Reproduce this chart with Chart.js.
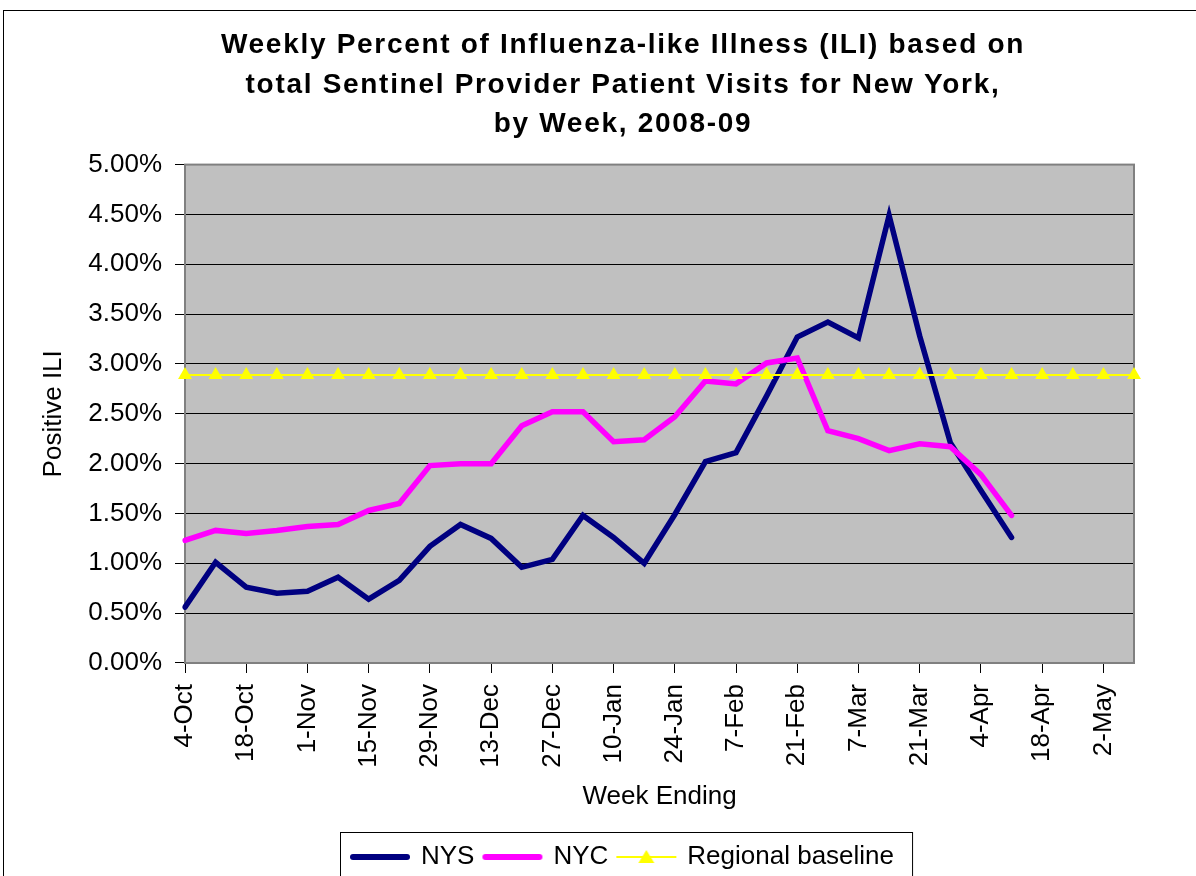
<!DOCTYPE html>
<html>
<head>
<meta charset="utf-8">
<script src="https://cdn.jsdelivr.net/npm/chart.js@4.4.1/dist/chart.umd.min.js"></script>
<style>
  html, body { margin: 0; padding: 0; background: #fff; overflow: hidden; }
  #wrap { width: 1196px; height: 876px; overflow: hidden; }
  canvas { display: block; }
</style>
</head>
<body>
<div id="wrap"><canvas id="myChart" width="1246" height="876"></canvas></div>
<script>
// week ending dates, 2008-09 season
const weeks = ['4-Oct', '11-Oct', '18-Oct', '25-Oct', '1-Nov', '8-Nov', '15-Nov', '22-Nov', '29-Nov',
    '6-Dec', '13-Dec', '20-Dec', '27-Dec', '3-Jan', '10-Jan', '17-Jan', '24-Jan', '31-Jan',
    '7-Feb', '14-Feb', '21-Feb', '28-Feb', '7-Mar', '14-Mar', '21-Mar', '28-Mar',
    '4-Apr', '11-Apr', '18-Apr', '25-Apr', '2-May', '9-May'];

// percent ILI
const nys = [0.56, 1.01, 0.76, 0.70, 0.72, 0.86, 0.64, 0.83, 1.17, 1.39, 1.25, 0.96, 1.04, 1.48,
    1.26, 1.00, 1.49, 2.02, 2.11, 2.68, 3.27, 3.42, 3.26, 4.49, 3.28, 2.21, 1.73, 1.26,
    null, null, null, null];
const nyc = [1.23, 1.33, 1.30, 1.33, 1.37, 1.39, 1.53, 1.60, 1.98, 2.00, 2.00, 2.38, 2.52, 2.52,
    2.22, 2.24, 2.47, 2.83, 2.80, 3.01, 3.06, 2.33, 2.25, 2.13, 2.20, 2.17, 1.89, 1.48,
    null, null, null, null];
const baseline = [2.89, 2.89, 2.89, 2.89, 2.89, 2.89, 2.89, 2.89, 2.89, 2.89, 2.89, 2.89, 2.89, 2.89,
    2.89, 2.89, 2.89, 2.89, 2.89, 2.89, 2.89, 2.89, 2.89, 2.89, 2.89, 2.89, 2.89, 2.89,
    2.89, 2.89, 2.89, 2.89];

const naslov = ['Weekly Percent of Influenza-like Illness (ILI) based on',
    'total Sentinel Provider Patient Visits for New York,',
    'by Week, 2008-09'];

Chart.defaults.font.family = '"Liberation Sans", Arial, sans-serif';
Chart.defaults.color = '#000';

function ikona(boja, debljina, trokut) {
    const c = document.createElement('canvas');
    c.width = 62;
    c.height = 20;
    const g = c.getContext('2d');
    g.strokeStyle = boja;
    g.lineWidth = debljina;
    g.lineCap = trokut ? 'butt' : 'round';
    g.beginPath();
    g.moveTo(trokut ? 1 : 4, 10);
    g.lineTo(trokut ? 61 : 58, 10);
    g.stroke();
    if (trokut) {
        g.fillStyle = boja;
        g.beginPath();
        g.moveTo(31, 3);
        g.lineTo(39, 16);
        g.lineTo(23, 16);
        g.closePath();
        g.fill();
    }
    return c;
}
const ikone = [ikona('#000080', 6, false), ikona('#FF00FF', 6, false), ikona('#FFFF00', 2, true)];

const okvir = {
    id: 'okvir',
    beforeDraw(chart) {
        const { ctx, chartArea: a } = chart;
        ctx.save();
        ctx.fillStyle = '#fff';
        ctx.fillRect(0, 0, chart.width, chart.height);
        ctx.fillStyle = '#C0C0C0';
        ctx.fillRect(a.left, a.top, a.right - a.left, a.bottom - a.top);
        ctx.strokeStyle = '#000';
        ctx.lineWidth = 1;
        ctx.strokeRect(3.5, 10.5, chart.width + 20, chart.height + 20);
        ctx.restore();
    },
    beforeDatasetsDraw(chart) {
        const { ctx, chartArea: a } = chart;
        ctx.save();
        ctx.strokeStyle = '#808080';
        ctx.lineWidth = 2;
        ctx.strokeRect(a.left, a.top, a.right - a.left, a.bottom - a.top);
        ctx.restore();
    },
    afterDraw(chart) {
        const boxes = chart.legend.legendHitBoxes;
        if (!boxes || !boxes.length) return;
        const lijevo = Math.min(...boxes.map(b => b.left));
        const desno = Math.max(...boxes.map(b => b.left + b.width));
        const vrh = boxes[0].top;
        const ctx = chart.ctx;
        ctx.save();
        ctx.strokeStyle = '#000';
        ctx.lineWidth = 1;
        ctx.strokeRect(Math.round(lijevo - 12) + 0.5, Math.round(vrh - 12) + 0.5, desno - lijevo + 30, 80);
        ctx.restore();
    },
    afterLayout(chart) {
        // Excel title is drawn with loose letter spacing
        const t = chart.titleBlock;
        if (!t || t._razmak) return;
        const crtaj = t.draw.bind(t);
        t.draw = function (area) {
            chart.ctx.save();
            chart.ctx.letterSpacing = '1.7px';
            crtaj(area);
            chart.ctx.restore();
        };
        t._razmak = true;
    }
};

const ctx = document.getElementById('myChart');
const myChart = new Chart(ctx, {
    type: 'line',
    data: {
        labels: weeks,
        datasets: [{
            label: 'NYS',
            data: nys,
            borderColor: '#000080',
            backgroundColor: '#000080',
            borderWidth: 5.5,
            borderCapStyle: 'round',
            pointRadius: 0,
            order: 3
        }, {
            label: 'NYC',
            data: nyc,
            borderColor: '#FF00FF',
            backgroundColor: '#FF00FF',
            borderWidth: 5.5,
            borderCapStyle: 'round',
            pointRadius: 0,
            order: 2
        }, {
            label: 'Regional baseline',
            data: baseline,
            borderColor: '#FFFF00',
            backgroundColor: '#FFFF00',
            borderWidth: 2,
            pointStyle: 'triangle',
            pointRadius: 8,
            pointBorderWidth: 0,
            pointBackgroundColor: '#FFFF00',
            clip: false,
            order: 1
        }]
    },
    options: {
        responsive: false,
        animation: false,
        devicePixelRatio: 1,
        layout: { padding: { left: 0, right: 0, top: 0, bottom: -4 } },
        plugins: {
            title: {
                display: true,
                text: naslov,
                color: '#000',
                font: { size: 28, weight: 'bold', lineHeight: 1.4 },
                padding: { top: 26, bottom: 21 }
            },
            legend: {
                position: 'bottom',
                labels: {
                    usePointStyle: true,
                    pointStyleWidth: 56,
                    color: '#000',
                    font: { size: 26 },
                    padding: 10,
                    generateLabels: chart => {
                        const items = Chart.defaults.plugins.legend.labels.generateLabels(chart);
                        items.sort((a, b) => a.datasetIndex - b.datasetIndex);
                        items.forEach(it => { it.pointStyle = ikone[it.datasetIndex]; });
                        return items;
                    }
                }
            },
            tooltip: { enabled: false }
        },
        scales: {
            x: {
                offset: false,
                ticks: {
                    autoSkip: false,
                    maxRotation: 90,
                    minRotation: 90,
                    padding: 11,
                    font: { size: 26 },
                    callback: (v, i) => (i % 2 === 0 ? weeks[i] : null)
                },
                grid: { drawOnChartArea: false, tickLength: 10, color: '#000' },
                border: { color: '#808080', width: 2 },
                title: {
                    display: true,
                    text: 'Week Ending',
                    font: { size: 26 },
                    padding: { top: 2, bottom: 22 }
                }
            },
            y: {
                min: 0,
                max: 5,
                ticks: {
                    stepSize: 0.5,
                    padding: 13,
                    font: { size: 26 },
                    callback: v => v.toFixed(2) + '%'
                },
                grid: { color: '#000', tickLength: 10 },
                border: { color: '#808080', width: 2 },
                title: {
                    display: true,
                    text: 'Positive ILI',
                    font: { size: 26 },
                    padding: { top: 38, bottom: 0 }
                },
                afterFit: s => { s.width = 185; }
            },
            yDesno: {
                position: 'right',
                ticks: { display: false },
                grid: { display: false },
                border: { display: false },
                afterFit: s => { s.width = 112; }
            }
        }
    },
    plugins: [okvir]
});
</script>
</body>
</html>
